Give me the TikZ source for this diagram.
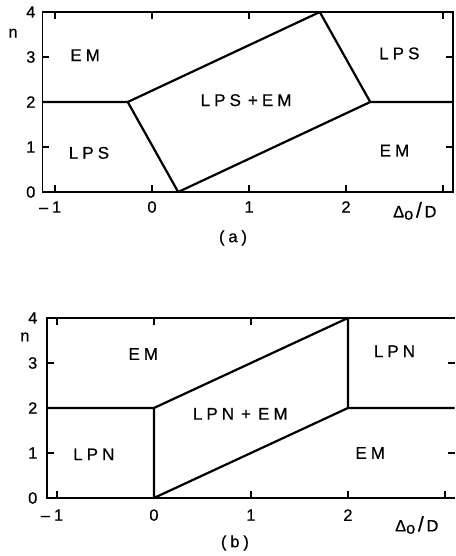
\documentclass[tikz,border=0pt]{standalone}
\usepackage{fontspec}
\newfontfamily\lab[LetterSpace=24,FakeBold=0.6]{Liberation Sans}
\tikzset{
	frame/.style={line width=1.4pt},
	bound/.style={line width=1.9pt, line join=round},
	region/.style={font=\lab\fontsize{14.5}{16}\selectfont, inner sep=0pt},
	num/.style={font=\lab\fontsize{14}{16}\selectfont, inner sep=0pt},
}
\begin{document}
\begin{tikzpicture}[x=2.91cm, y=1.35cm]
	\useasboundingbox (-1.567,-8.089) rectangle (3.124,4.267);
	% panel (a)
	\draw[frame] (-1.13,0) rectangle (3.10,4);
	\foreach \i in {-1,0,1,2,3} \draw[frame] (\i,0) -- (\i,0.156);
	\foreach \i in {-1,0,1,3} \draw[frame] (\i,4) -- (\i,3.844);
	\foreach \k in {1,2,3} \draw[frame] (-1.13,\k) -- (-1.058,\k);
	\foreach \k in {1,3} \draw[frame] (3.10,\k) -- (3.028,\k);
	\foreach \k in {0,...,4} \node[num, anchor=east] (ya\k) at (-1.20,\k) {\k};
	\node[num] (na) at (-1.433,3.53) {n};
	\node[num] (xam) at (-1.05,-0.333) {–1};
	\foreach \i in {0,1,2} \node[num] (xa\i) at (\i,-0.333) {\i};
	\node[num] (dela) at (2.71,-0.42) {Δ\raisebox{-2pt}{o}\,{\fontsize{18}{18}\selectfont/}\,D};
	\node[num] (capa) at (0.835,-1.02) {(a)};
	\coordinate (aw) at (-1.13,2);
	\coordinate (ae) at (3.10,2);
	\coordinate (al) at (-0.25,2);
	\coordinate (ab) at (0.27,0);
	\coordinate (ar) at (2.25,2);
	\coordinate (at) at (1.73,4);
	\draw[bound] (aw) -- (al) -- (ab) -- (ar) -- (ae);
	\draw[bound] (al) -- (at) -- (ar);
	\node[region] (ema) at (-0.69,3.04) {EM};
	\node[region] (lpsa) at (-0.65,0.87) {LPS};
	\node[region] (mixa) at (0.97,2.04) {LPS\hspace*{6pt}+EM};
	\node[region] (lpsb) at (2.55,3.08) {LPS};
	\node[region] (emb) at (2.50,0.92) {EM};
	% panel (b)
	\begin{scope}[shift={(0.02,-6.8)}]
		\draw[frame] (3.10,4) -- (-1.10,4) -- (-1.10,0) -- (3.10,0);
		\foreach \i in {-1,0,1,2,3} \draw[frame] (\i,0) -- (\i,0.156);
		\foreach \i in {-1,0,1} \draw[frame] (\i,4) -- (\i,3.844);
		\foreach \k in {1,2,3} \draw[frame] (-1.10,\k) -- (-1.028,\k);
		\foreach \k in {1,3} \draw[frame] (3.10,\k) -- (3.03,\k);
		\foreach \k in {0,...,4} \node[num, anchor=east] (yb\k) at (-1.20,\k) {\k};
		\node[num] (nb) at (-1.33,3.58) {n};
		\node[num] (xbm) at (-1.05,-0.38) {–1};
		\foreach \i in {0,1,2} \node[num] (xb\i) at (\i,-0.38) {\i};
		\node[num] (delb) at (2.71,-0.6) {Δ\raisebox{-2pt}{o}\,{\fontsize{18}{18}\selectfont/}\,D};
		\node[num] (capb) at (0.835,-1.0) {(b)};
		\coordinate (bw) at (-1.10,2);
		\coordinate (be) at (3.10,2);
		\coordinate (bl) at (0,2);
		\coordinate (bb) at (0,0);
		\coordinate (br) at (2,2);
		\coordinate (bt) at (2,4);
		\draw[bound] (bw) -- (bl) -- (bb) -- (br) -- (be);
		\draw[bound] (bl) -- (bt) -- (br);
		\node[region] (emc) at (-0.11,3.2) {EM};
		\node[region] (lpnc) at (-0.62,0.97) {LPN};
		\node[region] (mixb) at (0.89,1.87) {LPN\hspace*{6pt}+\hspace*{6pt}EM};
		\node[region] (lpnd) at (2.48,3.26) {LPN};
		\node[region] (emd) at (2.23,1.0) {EM};
	\end{scope}
\end{tikzpicture}
\end{document}
